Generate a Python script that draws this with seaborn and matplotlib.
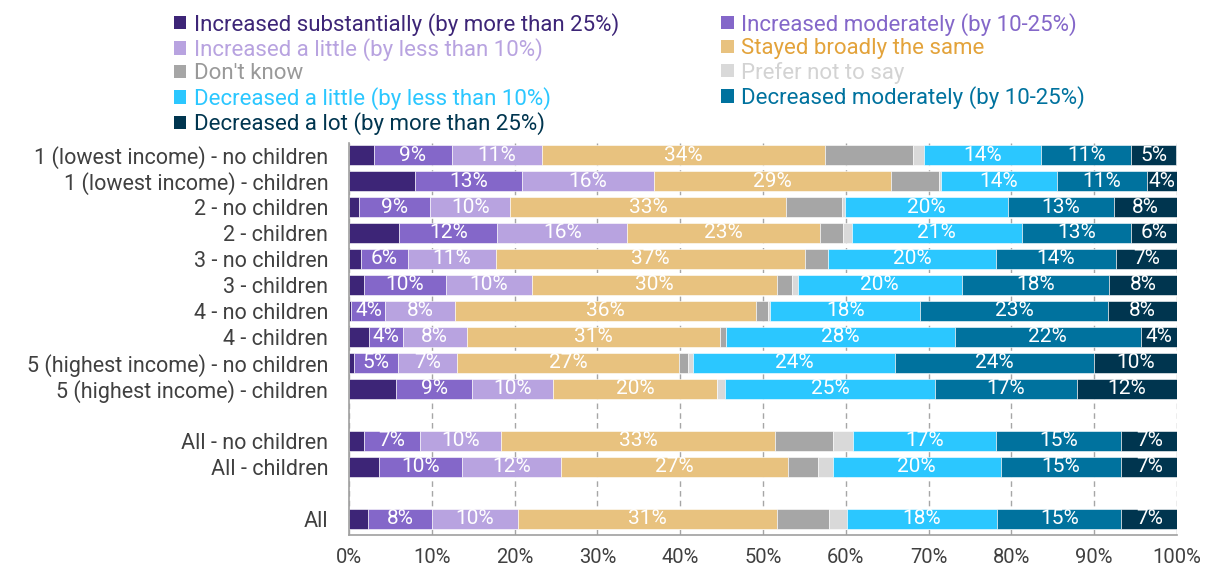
import numpy as np
import pandas as pd
import matplotlib
matplotlib.use("Agg")
import matplotlib.pyplot as plt
import seaborn as sns
from matplotlib.patches import Patch

# Категорії відповідей (порядок стеку зліва направо)
answers = [
    "Increased substantially (by more than 25%)",
    "Increased moderately (by 10-25%)",
    "Increased a little (by less than 10%)",
    "Stayed broadly the same",
    "Don't know",
    "Prefer not to say",
    "Decreased a little (by less than 10%)",
    "Decreased moderately (by 10-25%)",
    "Decreased a lot (by more than 25%)",
]
colors = ["#3D2577", "#8467C9", "#B8A3E0", "#E8C27F", "#A6A6A6",
          "#D9D9D9", "#2BC7FF", "#00729E", "#00354F"]
text_colors = ["#3D2577", "#8467C9", "#B8A3E0", "#E3A33B", "#999999",
               "#D3D3D3", "#2BC7FF", "#00729E", "#00354F"]

groups = [
    "1 (lowest income) - no children",
    "1 (lowest income) - children",
    "2 - no children",
    "2 - children",
    "3 - no children",
    "3 - children",
    "4 - no children",
    "4 - children",
    "5 (highest income) - no children",
    "5 (highest income) - children",
    "All - no children",
    "All - children",
    "All",
]
# позиції рядків (з пропусками між блоками)
row_pos = [0, 1, 2, 3, 4, 5, 6, 7, 8, 9, 11, 12, 14]

# частки (%) для кожної категорії, по групах
inc_sub = [3.0, 8.0, 1.2, 6.1, 1.5, 1.8, 0.3, 2.4, 0.6, 5.7, 1.8, 3.6, 2.3]
inc_mod = [9.4, 12.9, 8.6, 11.8, 5.6, 9.9, 4.1, 4.1, 5.3, 9.2, 6.8, 10.0, 7.7]
inc_lit = [10.9, 15.9, 9.7, 15.7, 10.7, 10.4, 8.4, 7.7, 7.2, 9.8, 9.8, 12.0, 10.4]
same = [34.2, 28.7, 33.3, 23.3, 37.3, 29.6, 36.3, 30.6, 26.8, 19.8, 33.0, 27.4, 31.3]
dont_know = [10.6, 5.7, 6.8, 2.8, 2.7, 1.8, 1.5, 0.7, 1.1, 0.0, 7.0, 3.7, 6.3]
prefer_not = [1.4, 0.3, 0.3, 1.0, 0.0, 0.7, 0.3, 0.0, 0.6, 0.9, 2.5, 1.7, 2.1]
dec_lit = [14.1, 14.0, 19.7, 20.6, 20.4, 19.8, 18.1, 27.7, 24.4, 25.4, 17.3, 20.3, 18.2]
dec_mod = [10.9, 10.9, 12.8, 13.1, 14.4, 17.8, 22.7, 22.4, 24.0, 17.1, 15.1, 14.6, 15.0]
dec_lot = [5.4, 3.6, 7.6, 5.6, 7.4, 8.2, 8.3, 4.4, 10.0, 12.1, 6.7, 6.7, 6.7]

values = [inc_sub, inc_mod, inc_lit, same, dont_know, prefer_not, dec_lit, dec_mod, dec_lot]
labelled = [1, 2, 3, 6, 7, 8]

plt.rcParams["font.family"] = ["Roboto", "DejaVu Sans"]

fig = plt.figure(figsize=(12.08, 5.74), dpi=100)
ax = fig.add_axes([0.2889, 0.0679, 0.6854, 0.6824])

left = np.zeros(len(groups))
for i, (name, vals) in enumerate(zip(answers, values)):
    df = pd.DataFrame({"pos": row_pos, "value": vals})
    sns.barplot(data=df, x="value", y="pos", orient="h", native_scale=True,
                color=colors[i], saturation=1, errorbar=None, width=0.8,
                left=left, edgecolor="white", linewidth=0.4, ax=ax, zorder=2)
    if i in labelled:
        ax.bar_label(ax.containers[-1], labels=[f"{v:.0f}%" for v in vals],
                     label_type="center", color="white", fontsize=15)
    left = left + np.array(vals)

ax.set_xlim(0, 100)
ax.set_ylim(14.62, -0.45)
ax.set_xticks(range(0, 101, 10))
ax.set_xticklabels([f"{t}%" for t in range(0, 101, 10)])
ax.set_yticks(row_pos)
ax.set_yticklabels(groups)
ax.set_xlabel("")
ax.set_ylabel("")
ax.tick_params(axis="y", length=0, pad=15, labelsize=15.5, labelcolor="#404040")
ax.tick_params(axis="x", length=0, pad=9, labelsize=14.5, labelcolor="#404040")
ax.grid(axis="x", color="#A6A6A6", linestyle=(0, (4, 3)), linewidth=1, zorder=0)
ax.set_axisbelow(True)
for side in ["top", "right"]:
    ax.spines[side].set_visible(False)
for side in ["left", "bottom"]:
    ax.spines[side].set_color("#A0A0A0")
    ax.spines[side].set_linewidth(1.2)

# легенда у два стовпці, порядок по рядках
order = [0, 2, 4, 6, 8, 1, 3, 5, 7]
handles = [Patch(facecolor=colors[k], edgecolor="none") for k in order]
leg = fig.legend(handles, [answers[k] for k in order], loc="upper left",
                 bbox_to_anchor=(0.144, 0.978), ncol=2, frameon=False,
                 fontsize=16, handlelength=0.55, handleheight=0.55,
                 handletextpad=0.35, labelspacing=0.11, columnspacing=4.6,
                 borderpad=0, borderaxespad=0)
for txt, k in zip(leg.get_texts(), order):
    txt.set_color(text_colors[k])

fig.savefig("out.png", dpi=100)
